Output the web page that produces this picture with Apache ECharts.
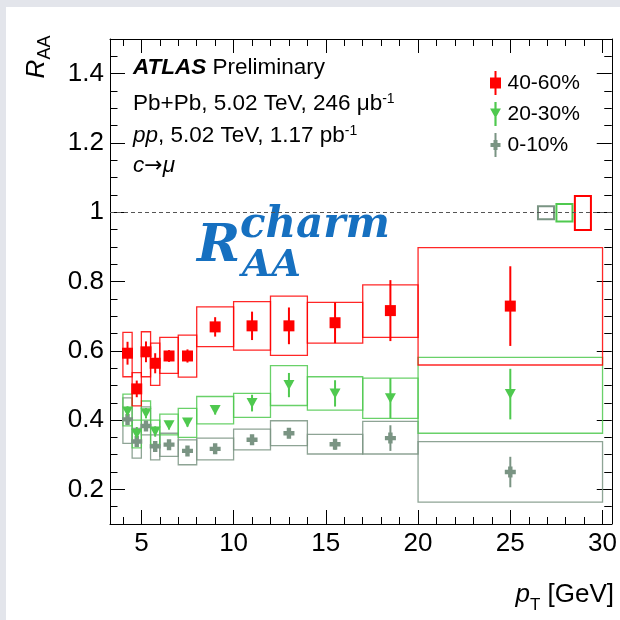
<!DOCTYPE html>
<html><head><meta charset="utf-8">
<script src="https://cdn.jsdelivr.net/npm/echarts@6/dist/echarts.min.js"></script>
<style>html,body{margin:0;padding:0;background:#fff}#c{width:620px;height:620px}</style>
</head><body><div id="c"></div>
<script>
// ---- data ----
const binLo = [4, 4.5, 5, 5.5, 6, 7, 8, 10, 12, 14, 17, 20];
const binHi = [4.5, 5, 5.5, 6, 7, 8, 10, 12, 14, 17, 20, 30];
const ptCenter = [4.25, 4.75, 5.25, 5.75, 6.5, 7.5, 9, 11, 13, 15.5, 18.5, 25];

const raa4060   = [0.593, 0.490, 0.597, 0.564, 0.585, 0.585, 0.669, 0.672, 0.672, 0.681, 0.716, 0.729];
const stat4060  = [0.033, 0.024, 0.030, 0.029, 0.017, 0.019, 0.028, 0.041, 0.053, 0.059, 0.088, 0.115];
const sysLo4060 = [0.525, 0.441, 0.525, 0.500, 0.535, 0.524, 0.612, 0.602, 0.587, 0.622, 0.639, 0.559];
const sysHi4060 = [0.653, 0.537, 0.655, 0.622, 0.639, 0.645, 0.727, 0.742, 0.758, 0.740, 0.790, 0.898];

const raa2030   = [0.425, 0.360, 0.420, 0.367, 0.385, 0.393, 0.429, 0.449, 0.501, 0.477, 0.463, 0.475];
const stat2030  = [0.015, 0.020, 0.015, 0.015, 0.012, 0.012, 0.013, 0.024, 0.035, 0.038, 0.058, 0.073];
const sysLo2030 = [0.383, 0.320, 0.400, 0.330, 0.357, 0.350, 0.389, 0.408, 0.442, 0.429, 0.405, 0.362];
const sysHi2030 = [0.475, 0.400, 0.455, 0.400, 0.417, 0.434, 0.468, 0.477, 0.557, 0.525, 0.521, 0.581];

const raa010    = [0.402, 0.338, 0.383, 0.324, 0.329, 0.311, 0.317, 0.343, 0.362, 0.330, 0.348, 0.250];
const stat010   = [0.010, 0.012, 0.010, 0.010, 0.010, 0.010, 0.010, 0.012, 0.014, 0.015, 0.037, 0.044];
const sysLo010  = [0.333, 0.290, 0.357, 0.285, 0.295, 0.271, 0.285, 0.314, 0.326, 0.302, 0.302, 0.163];
const sysHi010  = [0.464, 0.376, 0.438, 0.357, 0.362, 0.343, 0.348, 0.374, 0.398, 0.359, 0.396, 0.338];

// normalisation uncertainty boxes at R_AA = 1: [0-10%, 20-30%, 40-60%]
const normX0 = [26.5, 27.5, 28.5];
const normX1 = [27.37, 28.37, 29.37];
const normLo = [0.980, 0.973, 0.949];
const normHi = [1.017, 1.024, 1.047];

const xMajorTicks = [5, 10, 15, 20, 25, 30];
const xMinorTicks = [4, 6, 7, 8, 9, 11, 12, 13, 14, 16, 17, 18, 19, 21, 22, 23, 24, 26, 27, 28, 29];
const yMajorTicks = [0.2, 0.4, 0.6, 0.8, 1, 1.2, 1.4];
const yMinorTicks = [0.15, 0.25, 0.3, 0.35, 0.45, 0.5, 0.55, 0.65, 0.7, 0.75, 0.85, 0.9, 0.95, 1.05, 1.1, 1.15, 1.25, 1.3, 1.35, 1.45];

// ---- styling ----
const RED = '#ff0000', GREEN = '#4fc94f', GRAY = '#7a9483';
const FONT = 'Liberation Sans, Arial, Helvetica, sans-serif';

function boxData(lo, hi) { return binLo.map((b, i) => [b, binHi[i], lo[i], hi[i]]); }
function errData(y, e) { return ptCenter.map((x, i) => [x, y[i] - e[i], y[i] + e[i]]); }
function ptData(y) { return ptCenter.map((x, i) => [x, y[i]]); }

function boxRender(color) {
  return function (params, api) {
    const a = api.coord([api.value(0), api.value(3)]);
    const b = api.coord([api.value(1), api.value(2)]);
    return { type: 'rect', shape: { x: a[0], y: a[1], width: b[0] - a[0], height: b[1] - a[1] },
      style: { fill: 'none', stroke: color, lineWidth: 1.3, opacity: 0.85 } };
  };
}
function errRender(color) {
  return function (params, api) {
    const a = api.coord([api.value(0), api.value(1)]);
    const b = api.coord([api.value(0), api.value(2)]);
    return { type: 'line', shape: { x1: a[0], y1: a[1], x2: b[0], y2: b[1] },
      style: { stroke: color, lineWidth: 2 } };
  };
}
const normColors = [GRAY, GREEN, RED];

const XMIN = 3.3, XMAX = 30.5, YMIN = 0.1, YMAX = 1.5;
function xAx(pos, ticks, len, line, labels) {
  return { type: 'value', min: XMIN, max: XMAX, position: pos, splitLine: { show: false },
    axisLine: { show: line, onZero: false, lineStyle: { color: '#000', width: 1 } },
    axisTick: { show: true, inside: true, length: len, customValues: ticks, lineStyle: { color: '#000' } },
    axisLabel: labels ? { show: true, customValues: ticks, margin: 7, fontSize: 26, color: '#000', fontFamily: FONT } : { show: false } };
}
function yAx(pos, ticks, len, line, labels) {
  return { type: 'value', min: YMIN, max: YMAX, position: pos, splitLine: { show: false },
    axisLine: { show: line, onZero: false, lineStyle: { color: '#000', width: 1 } },
    axisTick: { show: true, inside: true, length: len, customValues: ticks, lineStyle: { color: '#000' } },
    axisLabel: labels ? { show: true, customValues: ticks, margin: 6, fontSize: 26, color: '#000', fontFamily: FONT,
      formatter: v => (Math.abs(v - 1) < 1e-9 ? '1' : v.toFixed(1)) } : { show: false } };
}

const chart = echarts.init(document.getElementById('c'), null, { renderer: 'canvas' });
chart.setOption({
  animation: false,
  backgroundColor: '#fff',
  grid: { left: 110, right: 8, top: 39, bottom: 96, containLabel: false },
  xAxis: [
    xAx('bottom', xMajorTicks, 14, true, true),
    xAx('bottom', xMinorTicks, 7, false, false),
    xAx('top', xMajorTicks, 14, true, false),
    xAx('top', xMinorTicks, 7, false, false)
  ],
  yAxis: [
    yAx('left', yMajorTicks, 15, true, true),
    yAx('left', yMinorTicks, 7.5, false, false),
    yAx('right', yMajorTicks, 15, true, false),
    yAx('right', yMinorTicks, 7.5, false, false)
  ],
  legend: {
    orient: 'vertical', left: 485, top: 66, itemWidth: 14, itemHeight: 24, itemGap: 7,
    textStyle: { fontSize: 21, color: '#000', fontFamily: FONT },
    data: [
      { name: '40-60%', icon: 'path://M4,0H6V24H4Z M-0.5,6.5H10.5V17.5H-0.5Z' },
      { name: '20-30%', icon: 'path://M4,0H6V22H4Z M0,6H10L5,15Z' },
      { name: '0-10%', icon: 'path://M4,0H6V24H4Z M3,7H7V10H10V14H7V17H3V14H0V10H3Z' }
    ]
  },
  graphic: [
    { type: 'rect', shape: { x: 0, y: 0, width: 620, height: 7 }, style: { fill: '#e3e5eb' }, silent: true },
    { type: 'rect', shape: { x: 0, y: 0, width: 6, height: 620 }, style: { fill: '#e3e5eb' }, silent: true },
    { type: 'text', x: 133, y: 68, style: { text: '{b|ATLAS} Preliminary', font: '22.5px ' + FONT, fill: '#000', verticalAlign: 'middle',
        rich: { b: { fontWeight: 'bold', fontStyle: 'italic', fontSize: 22.5, fontFamily: FONT } } } },
    { type: 'text', x: 133, y: 104, style: { text: 'Pb+Pb, 5.02 TeV, 246 μb{s|-1}', font: '22.5px ' + FONT, fill: '#000', verticalAlign: 'middle',
        rich: { s: { fontSize: 14, verticalAlign: 'top', fontFamily: FONT } } } },
    { type: 'text', x: 133, y: 136, style: { text: '{i|pp}, 5.02 TeV, 1.17 pb{s|-1}', font: '22.5px ' + FONT, fill: '#000', verticalAlign: 'middle',
        rich: { i: { fontStyle: 'italic', fontSize: 22.5, fontFamily: FONT }, s: { fontSize: 14, verticalAlign: 'top', fontFamily: FONT } } } },
    { type: 'text', x: 133, y: 166, style: { text: '{i|c}{a|→}{i|μ}', font: '22.5px ' + FONT, fill: '#000', verticalAlign: 'middle',
        rich: { i: { fontStyle: 'italic', fontSize: 22.5, fontFamily: FONT }, a: { fontSize: 22, fontFamily: 'DejaVu Sans' } } } },
    { type: 'text', x: 197, y: 247, style: { text: 'R', font: 'italic bold 52px "DejaVu Serif", serif', fill: '#1670c0', verticalAlign: 'middle' } },
    { type: 'text', x: 240, y: 226, style: { text: 'charm', font: 'italic bold 42px "DejaVu Serif", serif', fill: '#1670c0', verticalAlign: 'middle' } },
    { type: 'text', x: 242, y: 266, style: { text: 'AA', font: 'italic bold 38px "DejaVu Serif", serif', fill: '#1670c0', verticalAlign: 'middle' } },
    { type: 'text', x: 37, y: 57, rotation: Math.PI / 2, style: { text: '{r|R}{s|AA}', fill: '#000', align: 'center', verticalAlign: 'middle',
        rich: { r: { fontStyle: 'italic', fontSize: 26, fontFamily: FONT, lineHeight: 34, verticalAlign: 'middle' },
                s: { fontSize: 18, fontFamily: FONT, lineHeight: 34, verticalAlign: 'bottom' } } } },
    { type: 'text', x: 614, y: 595, style: { text: '{i|p}{s|T}{n| [GeV]}', fill: '#000', align: 'right', verticalAlign: 'middle',
        rich: { i: { fontStyle: 'italic', fontSize: 26, fontFamily: FONT, lineHeight: 38, verticalAlign: 'middle' },
                s: { fontSize: 17, fontFamily: FONT, lineHeight: 38, verticalAlign: 'bottom' },
                n: { fontSize: 26, fontFamily: FONT, lineHeight: 38, verticalAlign: 'middle' } } } }
  ],
  series: [
    { type: 'custom', name: 'sys010', renderItem: boxRender(GRAY), data: boxData(sysLo010, sysHi010), z: 2, silent: true },
    { type: 'custom', name: 'sys2030', renderItem: boxRender(GREEN), data: boxData(sysLo2030, sysHi2030), z: 2, silent: true },
    { type: 'custom', name: 'sys4060', renderItem: boxRender(RED), data: boxData(sysLo4060, sysHi4060), z: 2, silent: true,
      markLine: { silent: true, symbol: 'none', label: { show: false },
        lineStyle: { color: '#555', type: [4, 3], width: 1.2 }, data: [{ yAxis: 1 }] } },
    { type: 'custom', name: 'norm', silent: true, z: 3,
      data: normX0.map((x, i) => [x, normX1[i], normLo[i], normHi[i], i]),
      renderItem: function (params, api) {
        const a = api.coord([api.value(0), api.value(3)]);
        const b = api.coord([api.value(1), api.value(2)]);
        return { type: 'rect', shape: { x: a[0], y: a[1], width: b[0] - a[0], height: b[1] - a[1] },
          style: { fill: 'none', stroke: normColors[api.value(4)], lineWidth: 2 } };
      } },
    { type: 'custom', name: 'err010', renderItem: errRender(GRAY), data: errData(raa010, stat010), z: 4, silent: true },
    { type: 'custom', name: 'err2030', renderItem: errRender(GREEN), data: errData(raa2030, stat2030), z: 4, silent: true },
    { type: 'custom', name: 'err4060', renderItem: errRender(RED), data: errData(raa4060, stat4060), z: 4, silent: true },
    { type: 'scatter', name: '0-10%', data: ptData(raa010), symbol: 'path://M3,0H7V3H10V7H7V10H3V7H0V3H3Z', symbolSize: 11,
      itemStyle: { color: GRAY, opacity: 1 }, z: 5 },
    { type: 'scatter', name: '20-30%', data: ptData(raa2030), symbol: 'triangle', symbolRotate: 180, symbolSize: [11, 10],
      itemStyle: { color: GREEN, opacity: 1 }, z: 5 },
    { type: 'scatter', name: '40-60%', data: ptData(raa4060), symbol: 'rect', symbolSize: 11,
      itemStyle: { color: RED, opacity: 1 }, z: 5 }
  ]
});
</script>
</body></html>
